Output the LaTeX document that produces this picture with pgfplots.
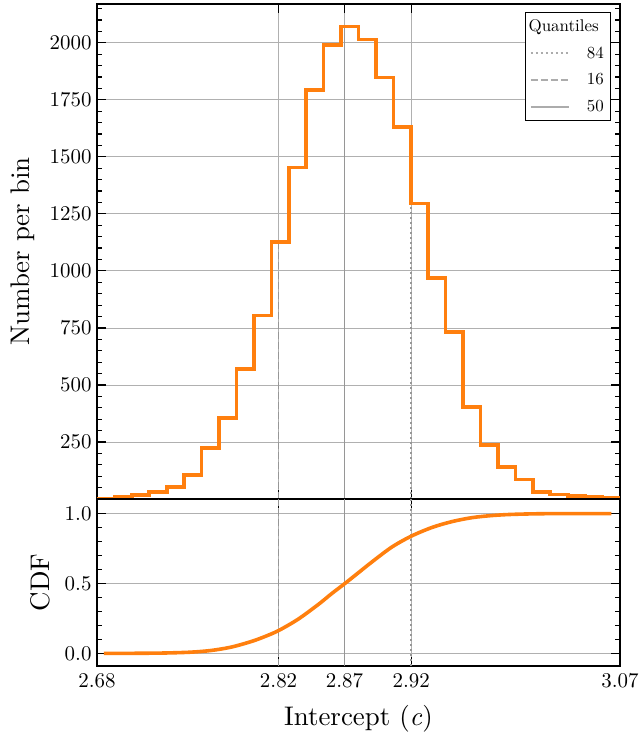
\documentclass[border=0pt]{standalone}
\usepackage{fontspec}
\setmainfont{lmroman10-regular.otf}[ItalicFont=lmroman10-italic.otf, BoldFont=lmroman10-bold.otf]
\usepackage{pgfplots}
\pgfplotsset{compat=1.18}

\definecolor{c1}{RGB}{255,127,14}
\definecolor{gridc}{RGB}{176,176,176}
\definecolor{qc}{RGB}{150,150,150}
\definecolor{legc}{RGB}{172,172,172}

% histogram: left bin edge, count (last row closes the last bin)
\pgfplotstableread{
x      n
2.680  3
2.693  10
2.706  17
2.719  31
2.732  53
2.745  104
2.758  224
2.771  355
2.784  570
2.797  805
2.810  1126
2.823  1454
2.836  1793
2.849  1990
2.862  2071
2.875  2015
2.888  1847
2.901  1631
2.914  1296
2.927  969
2.940  731
2.953  402
2.966  238
2.979  141
2.992  85
3.005  31
3.018  20
3.031  14
3.044  9
3.057  5
3.070  5
}\histdata

\pgfplotsset{
  common/.style={
    scale only axis, width=523bp,
    xmin=2.68, xmax=3.07,
    xtick={2.68,2.8154,2.8645,2.9143,3.07},
    tick align=inside, xtick pos=both, ytick pos=both,
    major tick length=9bp, minor tick length=5bp,
    every tick/.style={black, line width=1.2bp},
    axis line style={black, line width=1.6bp},
    xmajorgrids, ymajorgrids,
    grid style={gridc, line width=0.8bp},
    /pgf/number format/assume math mode=true,
    tick label style={font=\fontsize{21}{25}\selectfont},
    label style={font=\fontsize{27}{32}\selectfont},
    yticklabel style={xshift=-2bp, /pgf/number format/1000 sep={}},
    xticklabel style={yshift=-4bp},
    ylabel shift=8bp, xlabel shift=10bp,
  },
  q16/.style={qc, line width=1.8bp, dash pattern=on 7bp off 3bp},
  q50/.style={qc, line width=1.8bp},
  q84/.style={qc, line width=1.8bp, dash pattern=on 2bp off 3bp},
}

\begin{document}
\begin{tikzpicture}
\begin{axis}[common, name=top,
    height=495bp,
    ymin=0, ymax=2170,
    ytick={250,500,...,2000},
    minor ytick={50,100,...,2150},
    xticklabels={},
    ylabel={Number per bin},
    legend style={at={(rel axis cs:0.983,0.984)}, anchor=north east,
      draw=black, line width=0.8bp, fill=white,
      font=\fontsize{17}{20}\selectfont,
      row sep=10bp, inner sep=5bp,
      /tikz/every odd column/.append style={column sep=15bp}},
    legend image code/.code={\draw[#1] (0bp,0bp) -- (38bp,0bp);},
  ]
\addplot[q16, forget plot] coordinates {(2.8154,0) (2.8154,1126)};
\addplot[q50, forget plot] coordinates {(2.8645,0) (2.8645,2071)};
\addplot[q84, forget plot] coordinates {(2.9143,0) (2.9143,1296)};
\addplot[c1, line width=3.6bp, const plot, forget plot] table[x=x, y=n] {\histdata};

\addlegendimage{empty legend}
\addlegendentry{\hspace*{-63bp}Quantiles}
\addlegendimage{legc, line width=1.8bp, dash pattern=on 2bp off 3bp}
\addlegendentry{84}
\addlegendimage{legc, line width=1.8bp, dash pattern=on 7bp off 3bp}
\addlegendentry{16}
\addlegendimage{legc, line width=1.8bp}
\addlegendentry{50}
\end{axis}

\begin{axis}[common,
    at={(top.south west)}, anchor=north west,
    height=167bp,
    ymin=-0.09, ymax=1.105,
    ytick={0,0.5,1},
    minor ytick={0.1,0.2,0.3,0.4,0.6,0.7,0.8,0.9},
    yticklabel style={/pgf/number format/.cd, fixed, fixed zerofill, precision=1},
    xticklabels={2.68,2.82,2.87,2.92,3.07},
    xlabel={Intercept (\textit{c})},
    ylabel={CDF},
  ]
\addplot[q16] coordinates {(2.8154,-0.09) (2.8154,1.105)};
\addplot[q50] coordinates {(2.8645,-0.09) (2.8645,1.105)};
\addplot[q84] coordinates {(2.9143,-0.09) (2.9143,1.105)};
\addplot[c1, line width=3.6bp, smooth] coordinates {
  (2.6852,0.000) (2.7100,0.001) (2.7305,0.003) (2.7500,0.009) (2.7650,0.021)
  (2.7800,0.045) (2.7950,0.085) (2.8050,0.120) (2.8155,0.164) (2.8300,0.245)
  (2.8450,0.350) (2.8550,0.428) (2.8648,0.500) (2.8750,0.578) (2.8860,0.662)
  (2.9000,0.762) (2.9145,0.840) (2.9300,0.902) (2.9450,0.944) (2.9600,0.972)
  (2.9750,0.987) (2.9900,0.995) (3.0156,1.000) (3.0635,1.000)
};
\end{axis}

\pgfresetboundingbox
\path[use as bounding box] ([shift={(-97bp,-244bp)}]top.south west) rectangle +(642bp,743bp);
\end{tikzpicture}
\end{document}
